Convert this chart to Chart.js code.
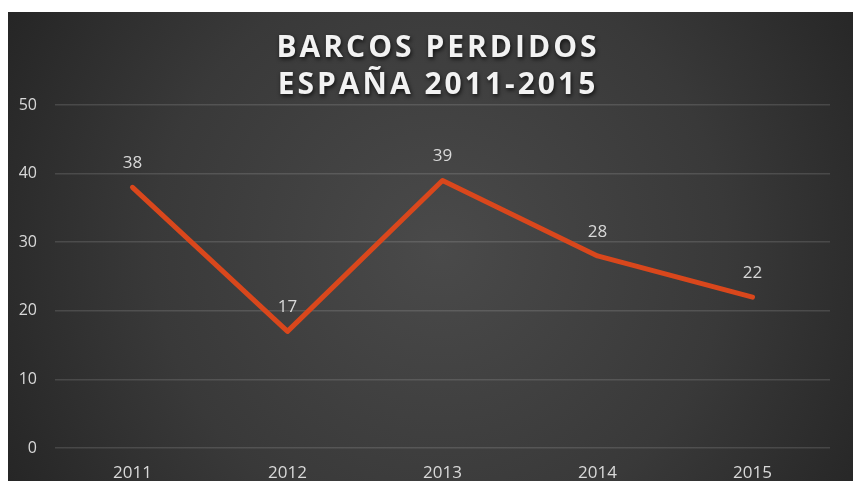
<!DOCTYPE html>
<html>
<head>
<meta charset="utf-8">
<script src="https://cdn.jsdelivr.net/npm/chart.js@4.4.1/dist/chart.umd.min.js"></script>
<style>
html,body{margin:0;padding:0;background:#fff;}
#wrap{width:853px;height:481px;position:relative;}
</style>
</head>
<body>
<div id="wrap"><canvas id="c"></canvas></div>
<script>
const titleLines = ['BARCOS PERDIDOS', 'ESPAÑA 2011-2015'];
const categories = ['2011', '2012', '2013', '2014', '2015'];
const values = [38, 17, 39, 28, 22];
const yMin = 0;
const yMax = 50;
const yStep = 10;

const textColor = '#d9d9d9';
const lineColor = '#d9471c';

const bgPlugin = {
  id: 'bg',
  beforeDraw(chart) {
    const ctx = chart.ctx;
    const w = chart.width, h = chart.height;
    ctx.save();
    ctx.fillStyle = '#ffffff';
    ctx.fillRect(0, 0, w, h);
    const x0 = 8, y0 = 12;
    const g = ctx.createRadialGradient(440, 250, 0, 440, 250, 520);
    g.addColorStop(0, '#4a4a4a');
    g.addColorStop(0.55, '#393939');
    g.addColorStop(1, '#232323');
    ctx.fillStyle = g;
    ctx.fillRect(x0, y0, w - x0, h - y0);
    ctx.restore();
  }
};

const titlePlugin = {
  id: 'customTitle',
  afterDraw(chart) {
    const ctx = chart.ctx;
    ctx.save();
    ctx.font = 'bold 30px "Open Sans", sans-serif';
    ctx.letterSpacing = '3px';
    ctx.textAlign = 'center';
    ctx.textBaseline = 'middle';
    ctx.fillStyle = '#f2f2f2';
    ctx.shadowColor = 'rgba(0,0,0,0.75)';
    ctx.shadowBlur = 4;
    ctx.shadowOffsetX = 1;
    ctx.shadowOffsetY = 2;
    const cx = 438;
    titleLines.forEach((t, i) => ctx.fillText(t, cx, 48 + i * 37));
    ctx.restore();
  }
};

const labelPlugin = {
  id: 'pointLabels',
  afterDatasetsDraw(chart) {
    const ctx = chart.ctx;
    const meta = chart.getDatasetMeta(0);
    ctx.save();
    ctx.font = '17px "Open Sans", sans-serif';
    ctx.fillStyle = textColor;
    ctx.textAlign = 'center';
    ctx.textBaseline = 'middle';
    meta.data.forEach((pt, i) => {
      ctx.fillText(String(values[i]), pt.x, pt.y - 24);
    });
    ctx.restore();
  }
};

new Chart(document.getElementById('c'), {
  type: 'line',
  data: {
    labels: categories,
    datasets: [{
      data: values,
      borderColor: lineColor,
      borderWidth: 5,
      borderCapStyle: 'round',
      borderJoinStyle: 'round',
      pointRadius: 0,
      pointHoverRadius: 0,
      fill: false,
      tension: 0
    }]
  },
  options: {
    responsive: true,
    maintainAspectRatio: false,
    animation: false,
    layout: { padding: { left: 8, top: 105, right: 23, bottom: 0 } },
    plugins: {
      legend: { display: false },
      title: { display: false },
      tooltip: { enabled: false }
    },
    scales: {
      x: {
        offset: true,
        grid: { display: false, drawTicks: false },
        border: { display: false },
        ticks: {
          color: textColor,
          font: { family: '"Open Sans", sans-serif', size: 17 },
          padding: 15,
          maxRotation: 0
        },
        afterFit(scale) { scale.height = 33; }
      },
      y: {
        min: yMin,
        max: yMax,
        grid: { color: 'rgba(255,255,255,0.13)', lineWidth: 1.5, drawTicks: false },
        border: { display: false },
        ticks: {
          stepSize: yStep,
          color: textColor,
          font: { family: '"Open Sans", sans-serif', size: 16 },
          padding: 18
        },
        afterFit(scale) { scale.width = 47; }
      }
    }
  },
  plugins: [bgPlugin, titlePlugin, labelPlugin]
});
</script>
</body>
</html>
